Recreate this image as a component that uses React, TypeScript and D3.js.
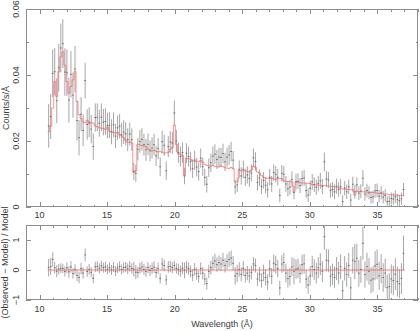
import React, { useEffect, useRef } from 'react';
import * as d3 from 'd3';

// Spectrum binning (Å)
const LAMBDA_START = 10.6;
const BIN_WIDTH = 0.15;

// Model flux per bin, in 1e-3 counts/s/Å
const modelFlux = [
  22.8, 24.5, 30, 38, 33.5, 41, 45.5, 47, 43, 38,
  34.5, 36.5, 38.5, 41, 32, 28, 26.8, 25.8, 25.5, 26.3,
  25.2, 25.6, 25.4, 24.6, 24.3, 24.0, 23.9, 23.8, 23.5, 24.2,
  23.0, 22.8, 22.6, 22.4, 22.6, 21.9, 21.5, 21.0, 20.2, 19.6,
  19.7, 19.4, 10.5, 11.0, 19.0, 18.8, 18.6, 18.5, 18.2, 17.6,
  17.3, 17.0, 17.2, 16.9, 16.7, 16.9, 16.5, 16.3, 16.4, 16.6,
  17.6, 18.0, 24.8, 19.0, 16.2, 15.9, 15.6, 9.5, 14.8, 14.6,
  14.5, 14.0, 13.9, 13.8, 13.7, 14.1, 13.6, 12.9, 12.6, 12.5,
  12.4, 12.6, 12.3, 12.2, 12.1, 12.5, 12.2, 11.9, 11.8, 11.7,
  12.0, 11.6, 7.6, 7.6, 11.2, 11.0, 10.9, 11.0, 10.8, 10.7,
  11.2, 12.4, 12.0, 10.6, 10.3, 9.5, 9.0, 8.8, 8.7, 8.6,
  8.8, 8.5, 8.4, 8.6, 8.7, 8.5, 7.9, 7.8, 7.7, 7.7,
  7.6, 4.6, 7.5, 7.4, 7.4, 7.3, 7.3, 7.2, 7.2, 7.1,
  6.8, 6.7, 6.7, 6.6, 6.6, 6.5, 6.5, 6.4, 6.3, 6.3,
  6.2, 6.1, 6.0, 5.9, 5.6, 5.5, 5.4, 5.4, 5.3, 5.2,
  5.2, 3.6, 4.8, 4.7, 4.7, 4.6, 4.6, 4.5, 4.5, 4.4,
  4.4, 4.3, 4.2, 4.1, 4.1, 4.0, 3.9, 3.9, 3.8, 3.7,
  3.7, 3.6, 3.6, 3.5, 3.5, 3.4,
];

// Observed flux per bin, in 1e-3 counts/s/Å
const observedFlux = [
  24.6, 27.4, 40.5, 41.0, 32.2, 42.2, 48.2, 49.5, 40.9, 40.7,
  32.4, 40.2, 33.9, 41.8, 26.2, 21.0, 28.1, 23.2, 38.3, 25.0,
  25.7, 23.6, 18.3, 27.1, 27.2, 25.4, 27.2, 25.7, 25.9, 24.7,
  24.8, 22.8, 24.9, 21.5, 24.0, 24.5, 21.9, 22.7, 22.2, 20.4,
  22.1, 20.4, 10.8, 10.2, 17.5, 19.9, 20.5, 18.9, 17.3, 19.0,
  17.0, 17.9, 18.9, 15.5, 17.7, 12.2, 19.8, 18.7, 11.0, 18.3,
  19.7, 19.4, 28.5, 20.0, 16.5, 15.3, 16.5, 9.4, 16.3, 15.3,
  13.8, 11.6, 14.2, 12.1, 10.7, 14.8, 12.2, 9.0, 6.9, 11.9,
  13.4, 15.4, 16.0, 14.4, 15.1, 15.0, 16.2, 13.7, 15.1, 15.8,
  16.8, 14.2, 6.1, 6.7, 11.4, 9.4, 11.4, 9.0, 9.7, 8.6,
  10.3, 14.9, 13.8, 7.4, 8.8, 6.2, 8.1, 6.6, 5.2, 9.0,
  7.0, 10.4, 9.9, 9.0, 3.5, 10.2, 9.9, 7.0, 5.5, 6.0,
  8.4, 4.4, 7.7, 7.8, 6.5, 8.6, 8.8, 5.0, 3.6, 5.7,
  7.6, 6.8, 6.0, 7.1, 7.9, 6.2, 13.7, 8.5, 8.2, 5.0,
  5.3, 4.6, 6.3, 5.3, 6.2, 1.7, 5.7, 4.6, 6.1, 2.1,
  6.9, 4.6, 6.7, 4.2, 4.8, 8.7, 3.9, 5.0, 4.3, 2.9,
  3.1, 4.9, 5.0, 3.3, 4.3, 3.0, 3.5, 1.6, 1.7, 2.6,
  2.4, 3.1, 2.2, 1.9, 2.5, 5.3,
];

// 1-sigma error per bin, in 1e-3 counts/s/Å
const fluxError = [
  6.6, 6.8, 7.2, 7.2, 6.8, 7.2, 7.4, 7.4, 7.2, 7.0,
  6.8, 7.0, 6.8, 7.0, 6.0, 5.4, 5.2, 4.8, 5.4, 4.6,
  4.5, 4.3, 4.0, 4.3, 4.2, 4.1, 4.2, 4.0, 4.0, 3.9,
  3.9, 3.8, 3.8, 3.7, 3.7, 3.7, 3.6, 3.6, 3.5, 3.5,
  3.5, 3.4, 2.6, 2.6, 3.4, 3.4, 3.4, 3.3, 3.3, 3.3,
  3.2, 3.2, 3.3, 3.1, 3.2, 2.9, 3.3, 3.2, 2.8, 3.2,
  3.3, 3.3, 3.8, 3.3, 3.1, 3.0, 3.1, 2.5, 3.0, 3.0,
  2.9, 2.8, 2.9, 2.8, 2.7, 2.9, 2.8, 2.6, 2.5, 2.8,
  2.8, 2.9, 3.0, 2.9, 2.9, 2.9, 3.0, 2.8, 2.9, 3.0,
  3.0, 2.8, 2.2, 2.2, 2.7, 2.6, 2.7, 2.6, 2.6, 2.5,
  2.6, 2.8, 2.8, 2.4, 2.5, 2.3, 2.5, 2.4, 2.3, 2.5,
  2.4, 2.5, 2.5, 2.5, 2.1, 2.5, 2.5, 2.4, 2.3, 2.3,
  2.4, 2.0, 2.4, 2.4, 2.3, 2.4, 2.4, 2.2, 2.1, 2.3,
  2.4, 2.3, 2.3, 2.3, 2.4, 2.3, 2.8, 2.4, 2.4, 2.2,
  2.2, 2.2, 2.3, 2.2, 2.3, 1.9, 2.2, 2.2, 2.2, 1.9,
  2.3, 2.1, 2.3, 2.1, 2.1, 2.5, 2.0, 2.1, 2.0, 1.9,
  1.9, 2.1, 2.1, 1.9, 2.0, 1.9, 1.9, 1.7, 1.7, 1.8,
  1.8, 1.9, 1.8, 1.7, 1.8, 2.0,
];

const xMajorTicks = [10, 15, 20, 25, 30, 35];
const fluxTicks = [0, 0.02, 0.04, 0.06];
const fluxTickLabels = ['0', '0.02', '0.04', '0.06'];
const ratioTicks = [-1, 0, 1];
const ratioTickLabels = ['\u22121', '0', '1'];

const W = 420;
const H = 331;
const FRAME = '#8e8e8e';
const BAR = '#a6a6a6';
const CROSS = '#6a6a6a';
const MODEL = '#ff5c5c';
const TEXT = '#3a3a3a';
const FONT = '"Liberation Sans", Arial, sans-serif';

export default function App() {
  const ref = useRef<SVGSVGElement | null>(null);

  useEffect(() => {
    const svg = d3.select(ref.current);
    svg.selectAll('*').remove();

    const left = 26;
    const right = 418;
    const top1 = 9;
    const bot1 = 207;
    const top2 = 225;
    const bot2 = 300;

    const x = d3.scaleLinear().domain([9, 38]).range([left, right]);
    const yFlux = d3.scaleLinear().domain([0, 0.06]).range([bot1, top1]);
    const yRatio = d3.scaleLinear().domain([-1, 1.5]).range([bot2, top2]);

    const bins = modelFlux.map((m, i) => {
      const lo = LAMBDA_START + i * BIN_WIDTH;
      const model = m * 1e-3;
      const obs = observedFlux[i] * 1e-3;
      const err = fluxError[i] * 1e-3;
      return {
        lo,
        hi: lo + BIN_WIDTH,
        mid: lo + BIN_WIDTH / 2,
        model,
        obs,
        err,
        ratio: (obs - model) / model,
        ratioErr: err / model,
      };
    });

    const defs = svg.append('defs');
    defs.append('clipPath').attr('id', 'clip1')
      .append('rect').attr('x', left).attr('y', top1).attr('width', right - left).attr('height', bot1 - top1);
    defs.append('clipPath').attr('id', 'clip2')
      .append('rect').attr('x', left).attr('y', top2).attr('width', right - left).attr('height', bot2 - top2);

    // frame + inward ticks on all four sides
    const drawFrame = (y: d3.ScaleLinear<number, number>, yTop: number, yBot: number, yMajor: number[], yMinor: number[]) => {
      const g = svg.append('g').attr('stroke', FRAME).attr('stroke-width', 1).attr('fill', 'none')
        .attr('shape-rendering', 'crispEdges');
      g.append('rect').attr('x', left + 0.5).attr('y', yTop + 0.5).attr('width', right - left - 1).attr('height', yBot - yTop - 1);
      const xMinor = d3.range(9, 39, 1).filter((v) => v % 5 !== 0);
      const xt = [...xMajorTicks.map((v) => ({ v, len: 5 })), ...xMinor.map((v) => ({ v, len: 2.5 }))];
      xt.forEach(({ v, len }) => {
        const px = Math.round(x(v)) + 0.5;
        g.append('line').attr('x1', px).attr('x2', px).attr('y1', yBot).attr('y2', yBot - len);
        g.append('line').attr('x1', px).attr('x2', px).attr('y1', yTop).attr('y2', yTop + len);
      });
      const yt = [...yMajor.map((v) => ({ v, len: 5 })), ...yMinor.map((v) => ({ v, len: 2.5 }))];
      yt.forEach(({ v, len }) => {
        const py = Math.round(y(v)) + 0.5;
        g.append('line').attr('x1', left).attr('x2', left + len).attr('y1', py).attr('y2', py);
        g.append('line').attr('x1', right).attr('x2', right - len).attr('y1', py).attr('y2', py);
      });
    };

    drawFrame(yFlux, top1, bot1, fluxTicks, [0.01, 0.03, 0.05]);
    drawFrame(yRatio, top2, bot2, ratioTicks, []);

    type Bin = typeof bins[0];
    // error-bar crosses
    const drawData = (clip: string, yv: (b: Bin) => number, ye: (b: Bin) => number, y: d3.ScaleLinear<number, number>) => {
      const g = svg.append('g').attr('clip-path', `url(#${clip})`).attr('stroke-width', 1);
      g.selectAll('line.v').data(bins).join('line').attr('class', 'v')
        .attr('stroke', BAR)
        .attr('x1', (d) => x(d.mid)).attr('x2', (d) => x(d.mid))
        .attr('y1', (d) => y(yv(d) - ye(d))).attr('y2', (d) => y(yv(d) + ye(d)));
      g.selectAll('line.h').data(bins).join('line').attr('class', 'h')
        .attr('stroke', CROSS)
        .attr('x1', (d) => x(d.lo) + 0.2).attr('x2', (d) => x(d.hi) - 0.2)
        .attr('y1', (d) => y(yv(d))).attr('y2', (d) => y(yv(d)));
    };

    drawData('clip1', (d) => d.obs, (d) => d.err, yFlux);
    drawData('clip2', (d) => d.ratio, (d) => d.ratioErr, yRatio);

    // model step line
    const last = bins[bins.length - 1];
    const stepPts: [number, number][] = [...bins.map((b) => [b.lo, b.model] as [number, number]), [last.hi, last.model]];
    svg.append('path')
      .attr('clip-path', 'url(#clip1)')
      .attr('d', d3.line<[number, number]>().x((d) => x(d[0])).y((d) => yFlux(d[1])).curve(d3.curveStepAfter)(stepPts))
      .attr('fill', 'none').attr('stroke', MODEL).attr('stroke-width', 0.9).attr('opacity', 0.75);

    const zeroPts: [number, number][] = stepPts.map((p) => [p[0], 0]);
    svg.append('path')
      .attr('d', d3.line<[number, number]>().x((d) => x(d[0])).y((d) => yRatio(d[1]))(zeroPts))
      .attr('fill', 'none').attr('stroke', MODEL).attr('stroke-width', 1).attr('opacity', 0.8);

    // labels
    const t = svg.append('g').attr('fill', TEXT).style('font-family', FONT).style('font-size', '9px');
    xMajorTicks.forEach((v) => {
      t.append('text').attr('x', x(v)).attr('y', 218).attr('text-anchor', 'middle').text(String(v));
      t.append('text').attr('x', x(v)).attr('y', 312).attr('text-anchor', 'middle').text(String(v));
    });
    fluxTicks.forEach((v, i) => {
      t.append('text').attr('transform', `translate(19,${yFlux(v)}) rotate(-90)`)
        .attr('text-anchor', 'middle').text(fluxTickLabels[i]);
    });
    ratioTicks.forEach((v, i) => {
      t.append('text').attr('transform', `translate(19,${yRatio(v)}) rotate(-90)`)
        .attr('text-anchor', 'middle').text(ratioTickLabels[i]);
    });
    t.append('text').attr('transform', `translate(9,${(top1 + bot1) / 2}) rotate(-90)`)
      .attr('text-anchor', 'middle').text('Counts/s/\u00c5');
    t.append('text').attr('transform', `translate(8,${(top2 + bot2) / 2}) rotate(-90)`)
      .attr('text-anchor', 'middle').text('(Observed \u2212 Model) / Model');
    t.append('text').attr('x', (left + right) / 2).attr('y', 327).attr('text-anchor', 'middle')
      .text('Wavelength (\u00c5)');
  }, []);

  return (
    <svg
      ref={ref}
      width={W}
      height={H}
      viewBox={`0 0 ${W} ${H}`}
      style={{ position: 'absolute', left: 0, top: 0, background: '#fff' }}
    />
  );
}
